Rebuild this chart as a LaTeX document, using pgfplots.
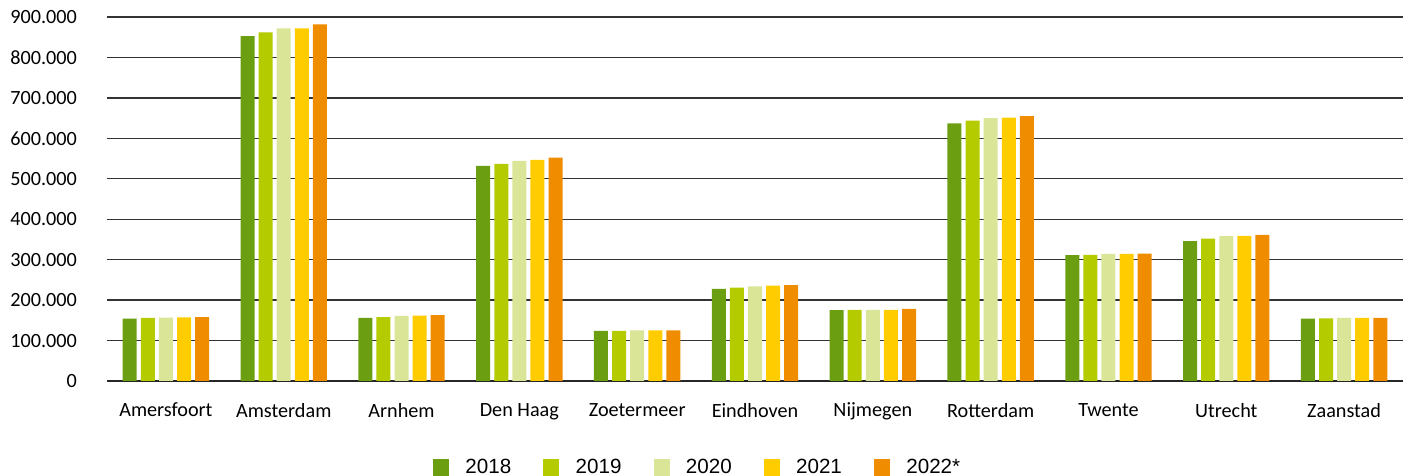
\documentclass[border=0pt]{standalone}
\usepackage{pgfplots}
\usepackage{pgfplotstable}
\pgfplotsset{compat=1.18}
\usepackage{fontspec}
\setmainfont{Carlito}
\newfontfamily\legfont{Liberation Sans}
\definecolor{c18}{RGB}{108,158,18}
\definecolor{c19}{RGB}{180,203,0}
\definecolor{c20}{RGB}{218,229,152}
\definecolor{c21}{RGB}{255,204,0}
\definecolor{c22}{RGB}{240,140,0}
\pgfplotstableread{
x a b c d e
0 154000 156000 156500 157500 158000
1 853000 862000 872000 872000 882000
2 156000 158000 161000 161500 163000
3 532000 537000 544000 547000 552000
4 124000 124000 125000 125000 125000
5 228000 231000 234000 236000 237000
6 175000 176000 176000 176000 178000
7 637000 644000 650000 651000 655000
8 311000 312000 314000 314000 315000
9 346000 352000 358000 359000 361000
10 154000 155000 156000 156000 156000
}\data
\begin{document}
\begin{tikzpicture}
\begin{pgfinterruptboundingbox}
\begin{axis}[
  scale only axis,
  width=648pt, height=182pt,
  ybar=2.05pt, bar width=7pt,
  xmin=-0.5, xmax=10.5,
  ymin=0, ymax=900000,
  xtick=data,
  xticklabels={Amersfoort,Amsterdam,Arnhem,Den Haag,Zoetermeer,Eindhoven,Nijmegen,Rotterdam,Twente,Utrecht,Zaanstad},
  ytick={0,100000,200000,300000,400000,500000,600000,700000,800000,900000},
  yticklabels={0,100.000,200.000,300.000,400.000,500.000,600.000,700.000,800.000,900.000},
  scaled y ticks=false,
  axis x line*=bottom, axis y line*=left,
  y axis line style={draw=none},
  x axis line style={line width=1pt, black!85},
  major tick length=0pt,
  ymajorgrids,
  grid style={line width=0.65pt, black!80},
  tick label style={font=\fontsize{10.1}{12}\selectfont, text=black},
  yticklabel style={xshift=-11.5pt},
  xticklabel style={yshift=-7.5pt},
  legend columns=5,
  legend style={draw=none, font=\legfont\fontsize{10.3}{12}\selectfont,
    at={(0.4565,-0.238)}, anchor=center,
    /tikz/every even column/.append style={column sep=14pt}},
  legend image code/.code={\fill[#1] (0pt,-4.25pt) rectangle (8pt,4.25pt); \path (14.2pt,0);},
  clip=false,
]
\addplot[fill=c18, draw=none] table[x=x,y=a]{\data};
\addplot[fill=c19, draw=none] table[x=x,y=b]{\data};
\addplot[fill=c20, draw=none] table[x=x,y=c]{\data};
\addplot[fill=c21, draw=none] table[x=x,y=d]{\data};
\addplot[fill=c22, draw=none] table[x=x,y=e]{\data};
\legend{2018,2019,2020,2021,2022*}
\coordinate (ll) at (rel axis cs:0,0);
\coordinate (ur) at (rel axis cs:1,1);
\end{axis}
\end{pgfinterruptboundingbox}
\path ([xshift=-53.5pt,yshift=-47.5pt]ll) rectangle ([xshift=4pt,yshift=8.5pt]ur);
\end{tikzpicture}
\end{document}
